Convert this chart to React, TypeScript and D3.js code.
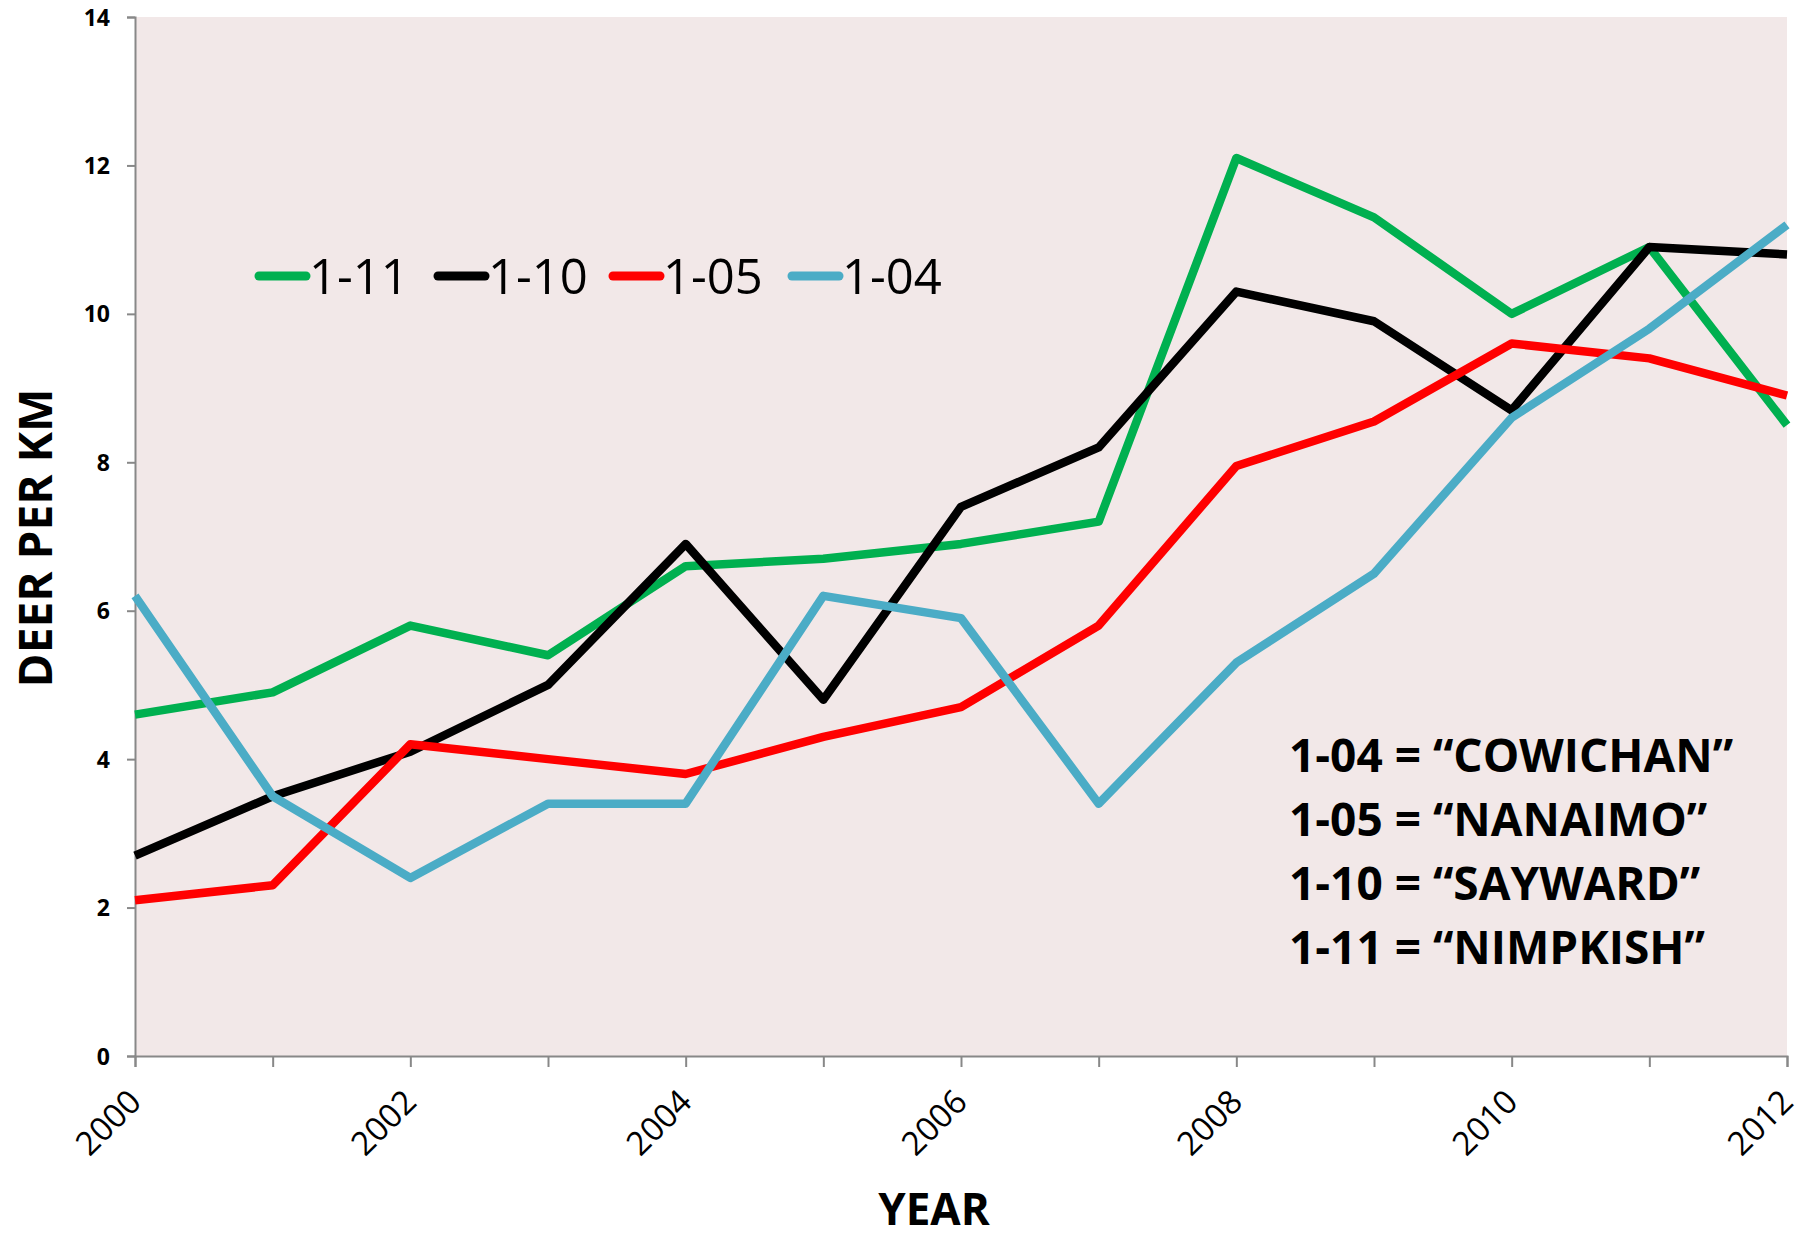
import { useEffect, useRef } from "react";
import * as d3 from "d3";

const years = [2000, 2001, 2002, 2003, 2004, 2005, 2006, 2007, 2008, 2009, 2010, 2011, 2012];
const yearLabels = [2000, 2002, 2004, 2006, 2008, 2010, 2012];
const yTicks = [0, 2, 4, 6, 8, 10, 12, 14];

const nimpkish = [4.6, 4.9, 5.8, 5.4, 6.6, 6.7, 6.9, 7.2, 12.1, 11.3, 10.0, 10.9, 8.5];
const sayward = [2.7, 3.5, 4.1, 5.0, 6.9, 4.8, 7.4, 8.2, 10.3, 9.9, 8.7, 10.9, 10.8];
const nanaimo = [2.1, 2.3, 4.2, 4.0, 3.8, 4.3, 4.7, 5.8, 7.95, 8.55, 9.6, 9.4, 8.9];
const cowichan = [6.2, 3.5, 2.4, 3.4, 3.4, 6.2, 5.9, 3.4, 5.3, 6.5, 8.6, 9.8, 11.2];

const seriesNames = ["1-11", "1-10", "1-05", "1-04"];
const seriesColors = ["#00b050", "#000000", "#ff0000", "#4bacc6"];
const notes = [
  "1-04 = \u201cCOWICHAN\u201d",
  "1-05 = \u201cNANAIMO\u201d",
  "1-10 = \u201cSAYWARD\u201d",
  "1-11 = \u201cNIMPKISH\u201d",
];

export default function App() {
  const svgRef = useRef<SVGSVGElement | null>(null);

  useEffect(() => {
    const svg = d3.select(svgRef.current);
    svg.selectAll("*").remove();

    const width = 1801;
    const height = 1238;
    const margin = { top: 17, right: 14, bottom: 182, left: 135 };
    const font = "'Open Sans', sans-serif";
    const axisColor = "#888888";

    svg.attr("width", width).attr("height", height);

    const x = d3
      .scaleLinear()
      .domain([2000, 2012])
      .range([margin.left, width - margin.right]);

    const y = d3
      .scaleLinear()
      .domain([0, 14])
      .range([height - margin.bottom, margin.top]);

    // plot area
    svg
      .append("rect")
      .attr("x", x(2000))
      .attr("y", y(14))
      .attr("width", x(2012) - x(2000))
      .attr("height", y(0) - y(14))
      .attr("fill", "#f2e8e8");

    // y axis
    const yAxis = svg
      .append("g")
      .attr("transform", `translate(${x(2000)},0)`)
      .call(d3.axisLeft(y).tickValues(yTicks).tickSize(8).tickFormat(d3.format("d")));
    yAxis.select(".domain").attr("stroke", axisColor).attr("stroke-width", 2);
    yAxis.selectAll(".tick line").attr("stroke", axisColor).attr("stroke-width", 2);
    yAxis
      .selectAll(".tick text")
      .attr("x", -25)
      .attr("dy", "0.35em")
      .attr("font-family", font)
      .attr("font-weight", "bold")
      .attr("font-size", 23)
      .attr("fill", "#000");

    // x axis
    const xAxis = svg
      .append("g")
      .attr("transform", `translate(0,${y(0)})`)
      .call(d3.axisBottom(x).tickValues(years).tickSize(11).tickFormat(() => ""));
    xAxis.select(".domain").attr("stroke", axisColor).attr("stroke-width", 2);
    xAxis.selectAll(".tick line").attr("stroke", axisColor).attr("stroke-width", 2);

    svg
      .append("g")
      .selectAll("text")
      .data(yearLabels)
      .join("text")
      .attr("transform", (d) => `translate(${x(d) + 8},${y(0) + 48}) rotate(-45)`)
      .attr("text-anchor", "end")
      .attr("font-family", font)
      .attr("font-size", 33)
      .attr("fill", "#000")
      .text((d) => d);

    // axis titles
    svg
      .append("text")
      .attr("transform", `translate(52,538) rotate(-90)`)
      .attr("text-anchor", "middle")
      .attr("font-family", font)
      .attr("font-weight", "bold")
      .attr("font-size", 46)
      .text("DEER PER KM");

    svg
      .append("text")
      .attr("x", 934)
      .attr("y", 1225)
      .attr("text-anchor", "middle")
      .attr("font-family", font)
      .attr("font-weight", "bold")
      .attr("font-size", 44)
      .text("YEAR");

    // lines
    const data = [nimpkish, sayward, nanaimo, cowichan];
    const line = d3
      .line<number>()
      .x((_, i) => x(years[i]))
      .y((d) => y(d));

    data.forEach((values, i) => {
      svg
        .append("path")
        .datum(values)
        .attr("fill", "none")
        .attr("stroke", seriesColors[i])
        .attr("stroke-width", 8.5)
        .attr("stroke-linejoin", "round")
        .attr("d", line);
    });

    // legend
    const legendX = [255, 434, 609, 788];
    const legend = svg.append("g");
    seriesNames.forEach((name, i) => {
      legend
        .append("line")
        .attr("x1", legendX[i] + 4)
        .attr("x2", legendX[i] + 51)
        .attr("y1", 276)
        .attr("y2", 276)
        .attr("stroke", seriesColors[i])
        .attr("stroke-width", 9)
        .attr("stroke-linecap", "round");
      legend
        .append("text")
        .attr("x", legendX[i] + 54)
        .attr("y", 294)
        .attr("font-family", font)
        .attr("font-size", 49)
        .attr("fill", "#000")
        .text(name);
    });

    // notes
    svg
      .append("g")
      .selectAll("text")
      .data(notes)
      .join("text")
      .attr("x", 1289)
      .attr("y", (_, i) => 772 + i * 64)
      .attr("font-family", font)
      .attr("font-weight", "bold")
      .attr("font-size", 46)
      .attr("fill", "#000")
      .text((d) => d);
  }, []);

  return (
    <svg
      ref={svgRef}
      style={{ position: "absolute", left: 0, top: 0, display: "block", background: "#fff" }}
    ></svg>
  );
}
